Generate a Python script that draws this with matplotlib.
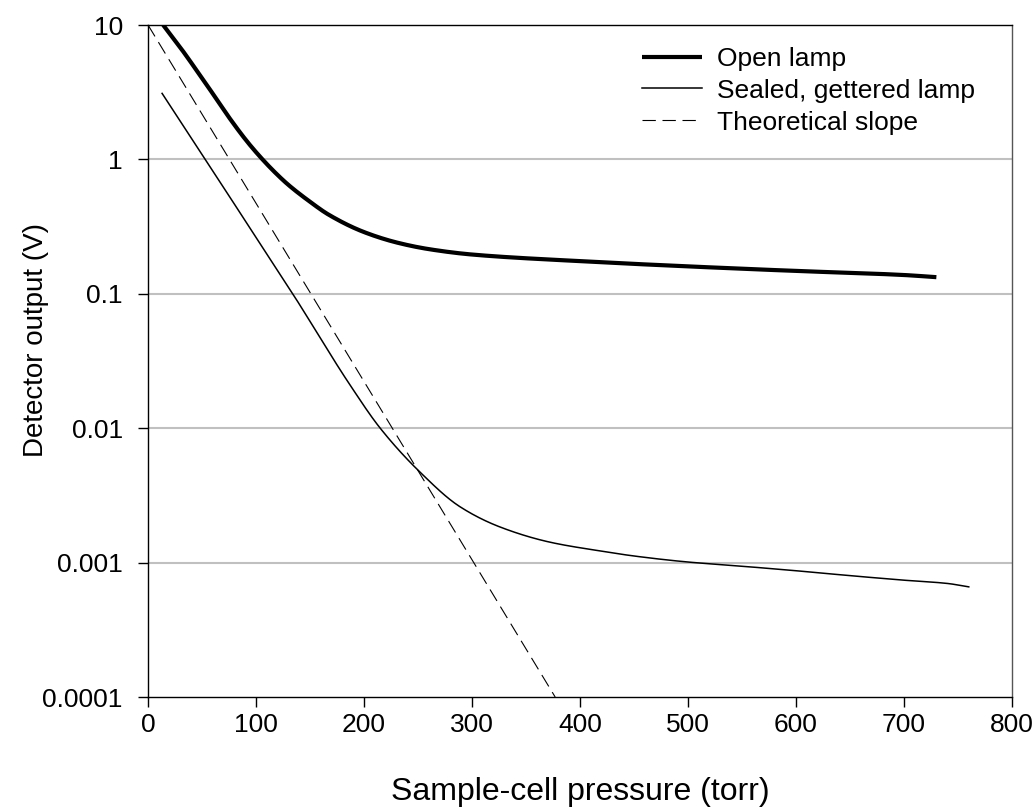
import matplotlib
matplotlib.use("Agg")
import matplotlib.pyplot as plt
import numpy as np
from matplotlib.ticker import FixedLocator, FixedFormatter, NullLocator

plt.rcParams["font.family"] = ["Liberation Sans", "DejaVu Sans"]

# Open lamp (thick)
open_x = [14, 31, 46, 62, 77, 93, 106, 118, 130, 150, 167, 200, 231, 260, 300, 400, 500, 600, 700, 730]
open_y = [10, 6.61, 4.47, 2.92, 1.95, 1.32, 1.0, 0.794, 0.646, 0.484, 0.389, 0.288, 0.240, 0.215,
          0.196, 0.175, 0.16, 0.148, 0.138, 0.133]

# Sealed, gettered lamp
sealed_x = [13, 53, 100, 134, 187, 215, 252, 289, 326, 372, 419, 450, 500, 550, 600, 650, 700, 740, 760]
sealed_y = [3.1, 1.0, 0.263, 0.1, 0.021, 0.01, 0.0047, 0.0026, 0.00184, 0.00142, 0.00122, 0.00112,
            0.00101, 0.00094, 0.00087, 0.0008, 0.00074, 0.0007, 0.00066]

# Theoretical slope (straight line on log axis)
theory_x = [0, 377]
theory_y = [10, 0.0001]

yticks = [0.0001, 0.001, 0.01, 0.1, 1, 10]
ylabels = ["0.0001", "0.001", "0.01", "0.1", "1", "10"]
xticks = [0, 100, 200, 300, 400, 500, 600, 700, 800]


def pchip_log(x, y, n=500):
    # monotone cubic through the read points, in log10(y)
    x = np.asarray(x, float)
    ly = np.log10(y)
    h = np.diff(x)
    d = np.diff(ly) / h
    m = np.zeros_like(ly)
    for k in range(1, len(x) - 1):
        if d[k - 1] * d[k] > 0:
            w1 = 2 * h[k] + h[k - 1]
            w2 = h[k] + 2 * h[k - 1]
            m[k] = (w1 + w2) / (w1 / d[k - 1] + w2 / d[k])
    m[0], m[-1] = d[0], d[-1]
    xs = np.linspace(x[0], x[-1], n)
    i = np.clip(np.searchsorted(x, xs) - 1, 0, len(x) - 2)
    t = (xs - x[i]) / h[i]
    h00 = 2 * t**3 - 3 * t**2 + 1
    h10 = t**3 - 2 * t**2 + t
    h01 = -2 * t**3 + 3 * t**2
    h11 = t**3 - t**2
    ys = h00 * ly[i] + h10 * h[i] * m[i] + h01 * ly[i + 1] + h11 * h[i] * m[i + 1]
    return xs, 10 ** ys


fig = plt.figure(figsize=(10.36, 8.07), dpi=100)
ax = fig.add_axes([0.1429, 0.1363, 0.8339, 0.8327])

for y in yticks[1:-1]:
    ax.axhline(y, color="#c0c0c0", lw=1.5, zorder=0)

ox, oy = pchip_log(open_x, open_y)
sx, sy = pchip_log(sealed_x, sealed_y)
ax.plot(ox, oy, color="black", lw=3.0, label="Open lamp", solid_capstyle="butt")
ax.plot(sx, sy, color="black", lw=1.1, label="Sealed, gettered lamp")
ax.plot(theory_x, theory_y, color="black", lw=0.8, dashes=(12, 6), label="Theoretical slope")

ax.set_yscale("log")
ax.set_xlim(0, 800)
ax.set_ylim(0.0001, 10)
ax.yaxis.set_major_locator(FixedLocator(yticks))
ax.yaxis.set_major_formatter(FixedFormatter(ylabels))
ax.yaxis.set_minor_locator(NullLocator())
ax.set_xticks(xticks)
ax.tick_params(axis="both", direction="out", length=7.2, width=1, labelsize=19)
ax.tick_params(axis="y", pad=11)
ax.tick_params(axis="x", pad=4)
for s in ax.spines.values():
    s.set_linewidth(1.0)
ax.spines["right"].set_color("#555555")

ax.set_xlabel("Sample-cell pressure (torr)", fontsize=23, labelpad=29)
ax.set_ylabel("Detector output (V)", fontsize=20)
ax.yaxis.set_label_coords(-0.115, 0.531)

ax.legend(loc="upper left", bbox_to_anchor=(618 / 1036, 1 - 23 / 807),
          bbox_transform=fig.transFigure, frameon=False, fontsize=19,
          handlelength=2.3, handletextpad=0.57, labelspacing=0.3, borderpad=0.4)

fig.savefig("out.png", dpi=100)
